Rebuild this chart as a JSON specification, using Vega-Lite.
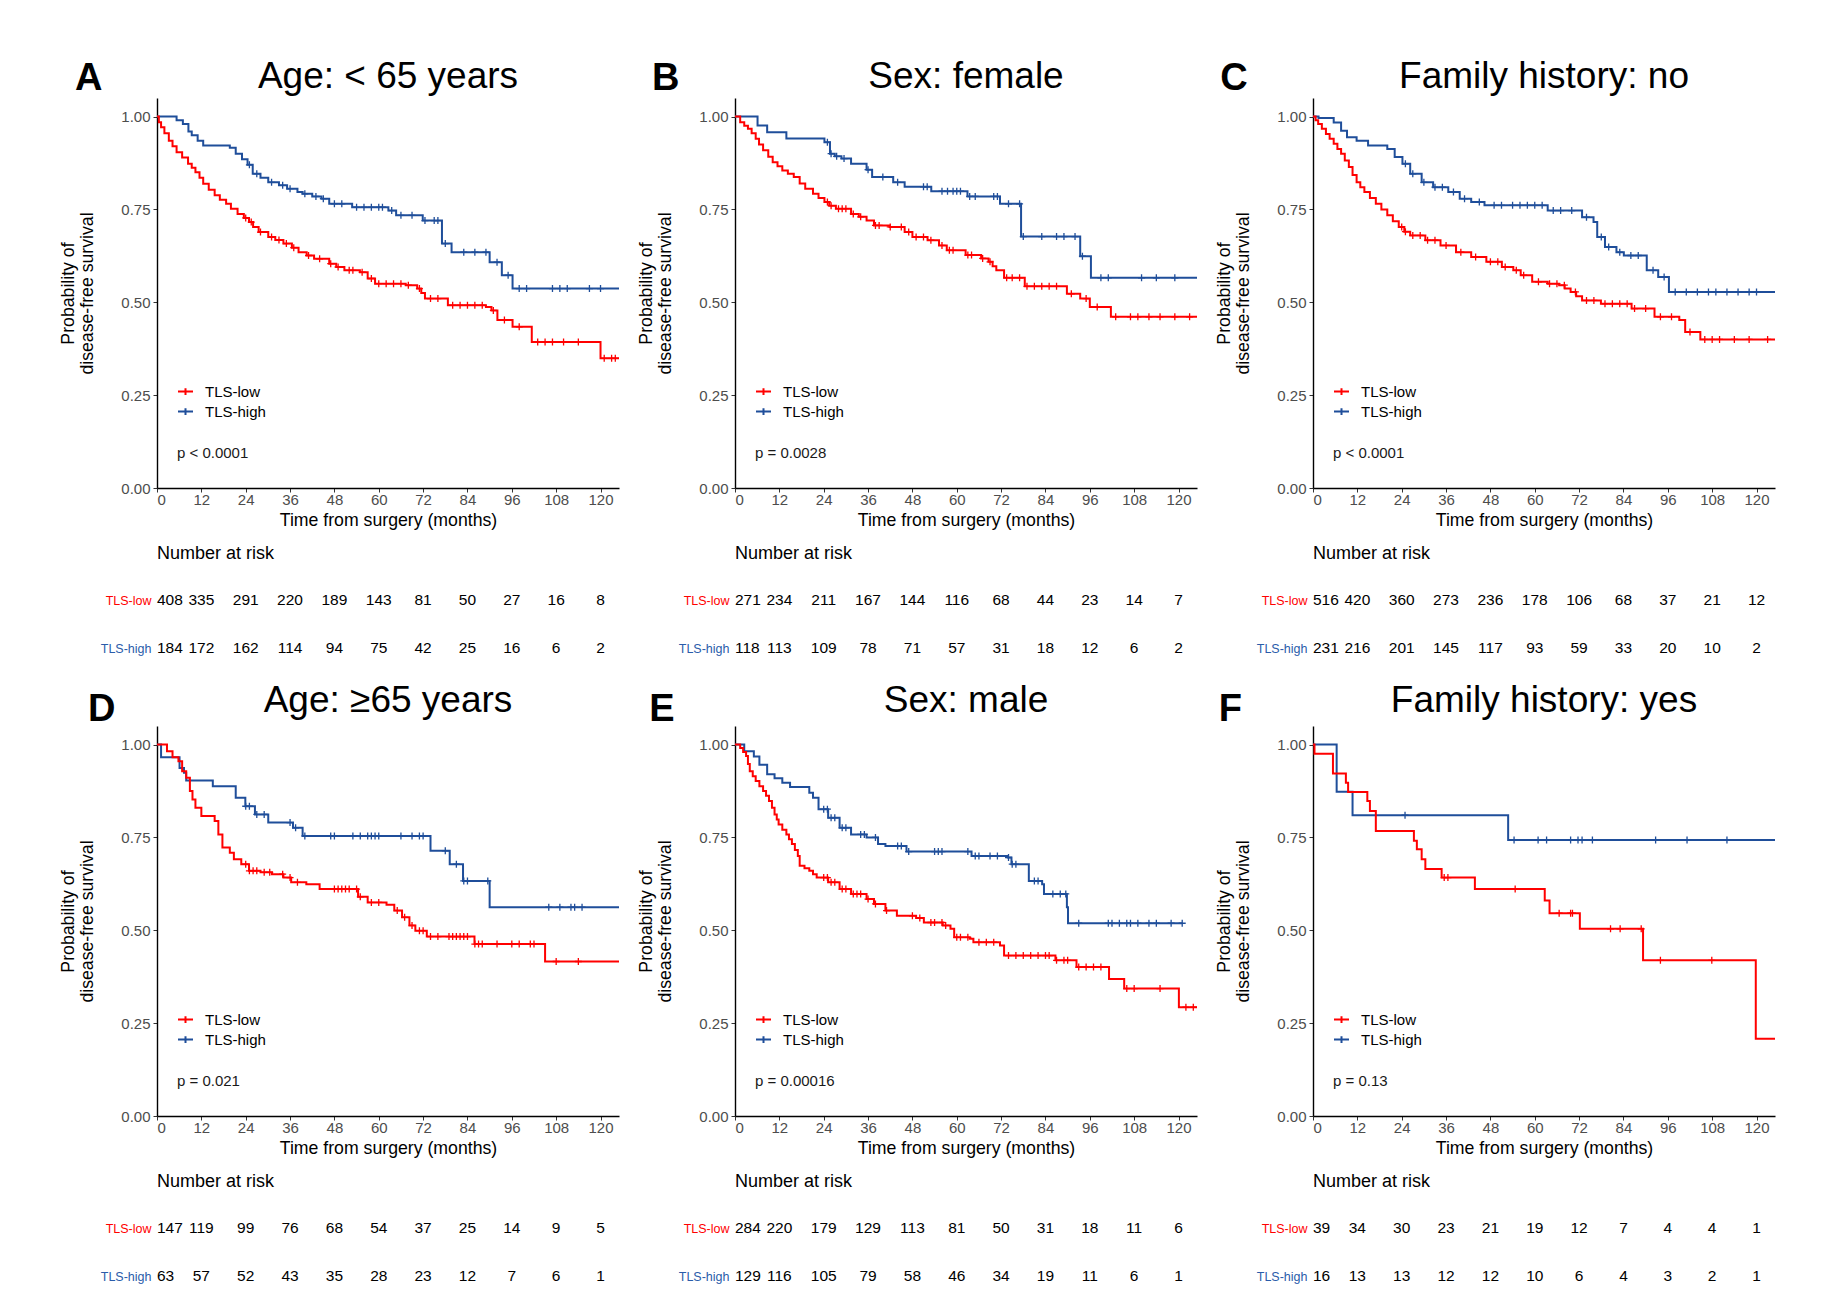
{
"$schema": "https://vega.github.io/schema/vega-lite/v6.json",
"background": "white",
"padding": {"left": 59, "top": 58, "right": 10, "bottom": 0},
"config": {
  "font": "Liberation Sans",
  "view": {"stroke": null},
  "axis": {"grid": false, "labelFont": "Liberation Sans", "titleFont": "Liberation Sans", "labelColor": "#4d4d4d", "labelFontSize": 15, "titleFontSize": 17.7, "titleFontWeight": "normal", "titleColor": "black", "domainColor": "black", "domainWidth": 1.4, "tickColor": "#333333", "tickSize": 4, "labelPadding": 3},
  "axisX": {"titlePadding": 4, "labelAngle": 0, "labelPadding": 0.5},
  "axisY": {"titlePadding": 24, "titleLineHeight": 19},
  "legend": {"labelFont": "Liberation Sans", "labelColor": "black"},
  "title": {"font": "Liberation Sans", "color": "black"}
},
"datasets": {
"notes": [
  {"panel": "A", "pval": "p < 0.0001"},
  {"panel": "B", "pval": "p = 0.0028"},
  {"panel": "C", "pval": "p < 0.0001"},
  {"panel": "D", "pval": "p = 0.021"},
  {"panel": "E", "pval": "p = 0.00016"},
  {"panel": "F", "pval": "p = 0.13"}
],
"risk": [
  {"panel":"A","group":"TLS-low","time":0,"n":408},{"panel":"A","group":"TLS-low","time":12,"n":335},{"panel":"A","group":"TLS-low","time":24,"n":291},{"panel":"A","group":"TLS-low","time":36,"n":220},{"panel":"A","group":"TLS-low","time":48,"n":189},{"panel":"A","group":"TLS-low","time":60,"n":143},{"panel":"A","group":"TLS-low","time":72,"n":81},{"panel":"A","group":"TLS-low","time":84,"n":50},{"panel":"A","group":"TLS-low","time":96,"n":27},{"panel":"A","group":"TLS-low","time":108,"n":16},{"panel":"A","group":"TLS-low","time":120,"n":8},
  {"panel":"A","group":"TLS-high","time":0,"n":184},{"panel":"A","group":"TLS-high","time":12,"n":172},{"panel":"A","group":"TLS-high","time":24,"n":162},{"panel":"A","group":"TLS-high","time":36,"n":114},{"panel":"A","group":"TLS-high","time":48,"n":94},{"panel":"A","group":"TLS-high","time":60,"n":75},{"panel":"A","group":"TLS-high","time":72,"n":42},{"panel":"A","group":"TLS-high","time":84,"n":25},{"panel":"A","group":"TLS-high","time":96,"n":16},{"panel":"A","group":"TLS-high","time":108,"n":6},{"panel":"A","group":"TLS-high","time":120,"n":2},
  {"panel":"B","group":"TLS-low","time":0,"n":271},{"panel":"B","group":"TLS-low","time":12,"n":234},{"panel":"B","group":"TLS-low","time":24,"n":211},{"panel":"B","group":"TLS-low","time":36,"n":167},{"panel":"B","group":"TLS-low","time":48,"n":144},{"panel":"B","group":"TLS-low","time":60,"n":116},{"panel":"B","group":"TLS-low","time":72,"n":68},{"panel":"B","group":"TLS-low","time":84,"n":44},{"panel":"B","group":"TLS-low","time":96,"n":23},{"panel":"B","group":"TLS-low","time":108,"n":14},{"panel":"B","group":"TLS-low","time":120,"n":7},
  {"panel":"B","group":"TLS-high","time":0,"n":118},{"panel":"B","group":"TLS-high","time":12,"n":113},{"panel":"B","group":"TLS-high","time":24,"n":109},{"panel":"B","group":"TLS-high","time":36,"n":78},{"panel":"B","group":"TLS-high","time":48,"n":71},{"panel":"B","group":"TLS-high","time":60,"n":57},{"panel":"B","group":"TLS-high","time":72,"n":31},{"panel":"B","group":"TLS-high","time":84,"n":18},{"panel":"B","group":"TLS-high","time":96,"n":12},{"panel":"B","group":"TLS-high","time":108,"n":6},{"panel":"B","group":"TLS-high","time":120,"n":2},
  {"panel":"C","group":"TLS-low","time":0,"n":516},{"panel":"C","group":"TLS-low","time":12,"n":420},{"panel":"C","group":"TLS-low","time":24,"n":360},{"panel":"C","group":"TLS-low","time":36,"n":273},{"panel":"C","group":"TLS-low","time":48,"n":236},{"panel":"C","group":"TLS-low","time":60,"n":178},{"panel":"C","group":"TLS-low","time":72,"n":106},{"panel":"C","group":"TLS-low","time":84,"n":68},{"panel":"C","group":"TLS-low","time":96,"n":37},{"panel":"C","group":"TLS-low","time":108,"n":21},{"panel":"C","group":"TLS-low","time":120,"n":12},
  {"panel":"C","group":"TLS-high","time":0,"n":231},{"panel":"C","group":"TLS-high","time":12,"n":216},{"panel":"C","group":"TLS-high","time":24,"n":201},{"panel":"C","group":"TLS-high","time":36,"n":145},{"panel":"C","group":"TLS-high","time":48,"n":117},{"panel":"C","group":"TLS-high","time":60,"n":93},{"panel":"C","group":"TLS-high","time":72,"n":59},{"panel":"C","group":"TLS-high","time":84,"n":33},{"panel":"C","group":"TLS-high","time":96,"n":20},{"panel":"C","group":"TLS-high","time":108,"n":10},{"panel":"C","group":"TLS-high","time":120,"n":2},
  {"panel":"D","group":"TLS-low","time":0,"n":147},{"panel":"D","group":"TLS-low","time":12,"n":119},{"panel":"D","group":"TLS-low","time":24,"n":99},{"panel":"D","group":"TLS-low","time":36,"n":76},{"panel":"D","group":"TLS-low","time":48,"n":68},{"panel":"D","group":"TLS-low","time":60,"n":54},{"panel":"D","group":"TLS-low","time":72,"n":37},{"panel":"D","group":"TLS-low","time":84,"n":25},{"panel":"D","group":"TLS-low","time":96,"n":14},{"panel":"D","group":"TLS-low","time":108,"n":9},{"panel":"D","group":"TLS-low","time":120,"n":5},
  {"panel":"D","group":"TLS-high","time":0,"n":63},{"panel":"D","group":"TLS-high","time":12,"n":57},{"panel":"D","group":"TLS-high","time":24,"n":52},{"panel":"D","group":"TLS-high","time":36,"n":43},{"panel":"D","group":"TLS-high","time":48,"n":35},{"panel":"D","group":"TLS-high","time":60,"n":28},{"panel":"D","group":"TLS-high","time":72,"n":23},{"panel":"D","group":"TLS-high","time":84,"n":12},{"panel":"D","group":"TLS-high","time":96,"n":7},{"panel":"D","group":"TLS-high","time":108,"n":6},{"panel":"D","group":"TLS-high","time":120,"n":1},
  {"panel":"E","group":"TLS-low","time":0,"n":284},{"panel":"E","group":"TLS-low","time":12,"n":220},{"panel":"E","group":"TLS-low","time":24,"n":179},{"panel":"E","group":"TLS-low","time":36,"n":129},{"panel":"E","group":"TLS-low","time":48,"n":113},{"panel":"E","group":"TLS-low","time":60,"n":81},{"panel":"E","group":"TLS-low","time":72,"n":50},{"panel":"E","group":"TLS-low","time":84,"n":31},{"panel":"E","group":"TLS-low","time":96,"n":18},{"panel":"E","group":"TLS-low","time":108,"n":11},{"panel":"E","group":"TLS-low","time":120,"n":6},
  {"panel":"E","group":"TLS-high","time":0,"n":129},{"panel":"E","group":"TLS-high","time":12,"n":116},{"panel":"E","group":"TLS-high","time":24,"n":105},{"panel":"E","group":"TLS-high","time":36,"n":79},{"panel":"E","group":"TLS-high","time":48,"n":58},{"panel":"E","group":"TLS-high","time":60,"n":46},{"panel":"E","group":"TLS-high","time":72,"n":34},{"panel":"E","group":"TLS-high","time":84,"n":19},{"panel":"E","group":"TLS-high","time":96,"n":11},{"panel":"E","group":"TLS-high","time":108,"n":6},{"panel":"E","group":"TLS-high","time":120,"n":1},
  {"panel":"F","group":"TLS-low","time":0,"n":39},{"panel":"F","group":"TLS-low","time":12,"n":34},{"panel":"F","group":"TLS-low","time":24,"n":30},{"panel":"F","group":"TLS-low","time":36,"n":23},{"panel":"F","group":"TLS-low","time":48,"n":21},{"panel":"F","group":"TLS-low","time":60,"n":19},{"panel":"F","group":"TLS-low","time":72,"n":12},{"panel":"F","group":"TLS-low","time":84,"n":7},{"panel":"F","group":"TLS-low","time":96,"n":4},{"panel":"F","group":"TLS-low","time":108,"n":4},{"panel":"F","group":"TLS-low","time":120,"n":1},
  {"panel":"F","group":"TLS-high","time":0,"n":16},{"panel":"F","group":"TLS-high","time":12,"n":13},{"panel":"F","group":"TLS-high","time":24,"n":13},{"panel":"F","group":"TLS-high","time":36,"n":12},{"panel":"F","group":"TLS-high","time":48,"n":12},{"panel":"F","group":"TLS-high","time":60,"n":10},{"panel":"F","group":"TLS-high","time":72,"n":6},{"panel":"F","group":"TLS-high","time":84,"n":4},{"panel":"F","group":"TLS-high","time":96,"n":3},{"panel":"F","group":"TLS-high","time":108,"n":2},{"panel":"F","group":"TLS-high","time":120,"n":1}
],
"steps": [
  {"panel":"A","group":"TLS-high","time":0,"surv":1},{"panel":"A","group":"TLS-high","time":5.3,"surv":0.99},{"panel":"A","group":"TLS-high","time":7,"surv":0.98},{"panel":"A","group":"TLS-high","time":8.5,"surv":0.96},{"panel":"A","group":"TLS-high","time":9.4,"surv":0.95},{"panel":"A","group":"TLS-high","time":11,"surv":0.935},{"panel":"A","group":"TLS-high","time":12.5,"surv":0.922},{"panel":"A","group":"TLS-high","time":19.7,"surv":0.916},{"panel":"A","group":"TLS-high","time":21.3,"surv":0.9},{"panel":"A","group":"TLS-high","time":23,"surv":0.885},{"panel":"A","group":"TLS-high","time":24.5,"surv":0.87},{"panel":"A","group":"TLS-high","time":25.9,"surv":0.846},{"panel":"A","group":"TLS-high","time":28,"surv":0.835},{"panel":"A","group":"TLS-high","time":30.1,"surv":0.823},{"panel":"A","group":"TLS-high","time":33,"surv":0.815},{"panel":"A","group":"TLS-high","time":35.2,"surv":0.806},{"panel":"A","group":"TLS-high","time":38,"surv":0.797},{"panel":"A","group":"TLS-high","time":39.4,"surv":0.792},{"panel":"A","group":"TLS-high","time":42,"surv":0.785},{"panel":"A","group":"TLS-high","time":44.5,"surv":0.779},{"panel":"A","group":"TLS-high","time":46.6,"surv":0.765},{"panel":"A","group":"TLS-high","time":52.8,"surv":0.756},{"panel":"A","group":"TLS-high","time":62.6,"surv":0.747},{"panel":"A","group":"TLS-high","time":64.7,"surv":0.734},{"panel":"A","group":"TLS-high","time":71.9,"surv":0.72},{"panel":"A","group":"TLS-high","time":77.1,"surv":0.658},{"panel":"A","group":"TLS-high","time":79.7,"surv":0.635},{"panel":"A","group":"TLS-high","time":90,"surv":0.608},{"panel":"A","group":"TLS-high","time":93.3,"surv":0.573},{"panel":"A","group":"TLS-high","time":96.2,"surv":0.537},{"panel":"A","group":"TLS-high","time":125,"surv":0.537},
  {"panel":"A","group":"TLS-low","time":0,"surv":1},{"panel":"A","group":"TLS-low","time":0.5,"surv":0.985},{"panel":"A","group":"TLS-low","time":1.1,"surv":0.971},{"panel":"A","group":"TLS-low","time":2,"surv":0.955},{"panel":"A","group":"TLS-low","time":3.2,"surv":0.935},{"panel":"A","group":"TLS-low","time":4.2,"surv":0.92},{"panel":"A","group":"TLS-low","time":5.3,"surv":0.904},{"panel":"A","group":"TLS-low","time":6.8,"surv":0.89},{"panel":"A","group":"TLS-low","time":8.4,"surv":0.873},{"panel":"A","group":"TLS-low","time":9.4,"surv":0.862},{"panel":"A","group":"TLS-low","time":10.4,"surv":0.85},{"panel":"A","group":"TLS-low","time":11.5,"surv":0.835},{"panel":"A","group":"TLS-low","time":12.5,"surv":0.819},{"panel":"A","group":"TLS-low","time":14,"surv":0.803},{"panel":"A","group":"TLS-low","time":15.6,"surv":0.788},{"panel":"A","group":"TLS-low","time":17,"surv":0.776},{"panel":"A","group":"TLS-low","time":18.7,"surv":0.765},{"panel":"A","group":"TLS-low","time":20,"surv":0.752},{"panel":"A","group":"TLS-low","time":21.8,"surv":0.738},{"panel":"A","group":"TLS-low","time":23.5,"surv":0.727},{"panel":"A","group":"TLS-low","time":24.9,"surv":0.716},{"panel":"A","group":"TLS-low","time":26,"surv":0.703},{"panel":"A","group":"TLS-low","time":27.5,"surv":0.689},{"panel":"A","group":"TLS-low","time":30.1,"surv":0.676},{"panel":"A","group":"TLS-low","time":32,"surv":0.668},{"panel":"A","group":"TLS-low","time":34.2,"surv":0.658},{"panel":"A","group":"TLS-low","time":36.5,"surv":0.647},{"panel":"A","group":"TLS-low","time":38.3,"surv":0.635},{"panel":"A","group":"TLS-low","time":40.5,"surv":0.626},{"panel":"A","group":"TLS-low","time":42.5,"surv":0.617},{"panel":"A","group":"TLS-low","time":46.6,"surv":0.604},{"panel":"A","group":"TLS-low","time":48.5,"surv":0.595},{"panel":"A","group":"TLS-low","time":50.7,"surv":0.586},{"panel":"A","group":"TLS-low","time":54.9,"surv":0.581},{"panel":"A","group":"TLS-low","time":57,"surv":0.564},{"panel":"A","group":"TLS-low","time":59,"surv":0.55},{"panel":"A","group":"TLS-low","time":67.3,"surv":0.546},{"panel":"A","group":"TLS-low","time":70.4,"surv":0.537},{"panel":"A","group":"TLS-low","time":71.5,"surv":0.525},{"panel":"A","group":"TLS-low","time":72.5,"surv":0.51},{"panel":"A","group":"TLS-low","time":78.7,"surv":0.492},{"panel":"A","group":"TLS-low","time":89,"surv":0.487},{"panel":"A","group":"TLS-low","time":90.5,"surv":0.478},{"panel":"A","group":"TLS-low","time":92.1,"surv":0.452},{"panel":"A","group":"TLS-low","time":96.2,"surv":0.434},{"panel":"A","group":"TLS-low","time":101.4,"surv":0.393},{"panel":"A","group":"TLS-low","time":120,"surv":0.349},{"panel":"A","group":"TLS-low","time":125,"surv":0.349},
  {"panel":"B","group":"TLS-high","time":0,"surv":1},{"panel":"B","group":"TLS-high","time":6.1,"surv":0.976},{"panel":"B","group":"TLS-high","time":8.7,"surv":0.958},{"panel":"B","group":"TLS-high","time":13.9,"surv":0.941},{"panel":"B","group":"TLS-high","time":24.2,"surv":0.931},{"panel":"B","group":"TLS-high","time":25.7,"surv":0.9},{"panel":"B","group":"TLS-high","time":27,"surv":0.893},{"panel":"B","group":"TLS-high","time":28.8,"surv":0.887},{"panel":"B","group":"TLS-high","time":31.4,"surv":0.873},{"panel":"B","group":"TLS-high","time":35.6,"surv":0.857},{"panel":"B","group":"TLS-high","time":37.1,"surv":0.837},{"panel":"B","group":"TLS-high","time":42.8,"surv":0.823},{"panel":"B","group":"TLS-high","time":45.9,"surv":0.811},{"panel":"B","group":"TLS-high","time":53.1,"surv":0.799},{"panel":"B","group":"TLS-high","time":62.9,"surv":0.785},{"panel":"B","group":"TLS-high","time":71.7,"surv":0.765},{"panel":"B","group":"TLS-high","time":77.4,"surv":0.677},{"panel":"B","group":"TLS-high","time":93.4,"surv":0.624},{"panel":"B","group":"TLS-high","time":96.3,"surv":0.566},{"panel":"B","group":"TLS-high","time":125,"surv":0.566},
  {"panel":"B","group":"TLS-low","time":0,"surv":1},{"panel":"B","group":"TLS-low","time":1.4,"surv":0.985},{"panel":"B","group":"TLS-low","time":2.5,"surv":0.975},{"panel":"B","group":"TLS-low","time":3.5,"surv":0.967},{"panel":"B","group":"TLS-low","time":4.5,"surv":0.955},{"panel":"B","group":"TLS-low","time":5.6,"surv":0.94},{"panel":"B","group":"TLS-low","time":6.5,"surv":0.925},{"panel":"B","group":"TLS-low","time":7.6,"surv":0.909},{"panel":"B","group":"TLS-low","time":9,"surv":0.892},{"panel":"B","group":"TLS-low","time":10.2,"surv":0.877},{"panel":"B","group":"TLS-low","time":11.5,"surv":0.866},{"panel":"B","group":"TLS-low","time":12.8,"surv":0.855},{"panel":"B","group":"TLS-low","time":14.3,"surv":0.846},{"panel":"B","group":"TLS-low","time":15.9,"surv":0.837},{"panel":"B","group":"TLS-low","time":17.5,"surv":0.82},{"panel":"B","group":"TLS-low","time":19,"surv":0.806},{"panel":"B","group":"TLS-low","time":21.1,"surv":0.792},{"panel":"B","group":"TLS-low","time":22.6,"surv":0.781},{"panel":"B","group":"TLS-low","time":24.2,"surv":0.77},{"panel":"B","group":"TLS-low","time":25.5,"surv":0.76},{"panel":"B","group":"TLS-low","time":27.3,"surv":0.752},{"panel":"B","group":"TLS-low","time":31.4,"surv":0.738},{"panel":"B","group":"TLS-low","time":33.5,"surv":0.73},{"panel":"B","group":"TLS-low","time":35.6,"surv":0.72},{"panel":"B","group":"TLS-low","time":37.6,"surv":0.707},{"panel":"B","group":"TLS-low","time":41.8,"surv":0.703},{"panel":"B","group":"TLS-low","time":45.9,"surv":0.689},{"panel":"B","group":"TLS-low","time":48,"surv":0.676},{"panel":"B","group":"TLS-low","time":52.1,"surv":0.667},{"panel":"B","group":"TLS-low","time":55.2,"surv":0.653},{"panel":"B","group":"TLS-low","time":57.3,"surv":0.64},{"panel":"B","group":"TLS-low","time":62.4,"surv":0.627},{"panel":"B","group":"TLS-low","time":66.6,"surv":0.618},{"panel":"B","group":"TLS-low","time":68.6,"surv":0.609},{"panel":"B","group":"TLS-low","time":69.7,"surv":0.597},{"panel":"B","group":"TLS-low","time":70.7,"surv":0.586},{"panel":"B","group":"TLS-low","time":72.8,"surv":0.566},{"panel":"B","group":"TLS-low","time":78.4,"surv":0.543},{"panel":"B","group":"TLS-low","time":89.8,"surv":0.523},{"panel":"B","group":"TLS-low","time":93.4,"surv":0.51},{"panel":"B","group":"TLS-low","time":96,"surv":0.487},{"panel":"B","group":"TLS-low","time":101.7,"surv":0.461},{"panel":"B","group":"TLS-low","time":125,"surv":0.461},
  {"panel":"C","group":"TLS-high","time":0,"surv":1},{"panel":"C","group":"TLS-high","time":1.5,"surv":0.996},{"panel":"C","group":"TLS-high","time":5.6,"surv":0.984},{"panel":"C","group":"TLS-high","time":7.6,"surv":0.962},{"panel":"C","group":"TLS-high","time":9.2,"surv":0.944},{"panel":"C","group":"TLS-high","time":11.8,"surv":0.935},{"panel":"C","group":"TLS-high","time":14.9,"surv":0.922},{"panel":"C","group":"TLS-high","time":20.1,"surv":0.913},{"panel":"C","group":"TLS-high","time":22.1,"surv":0.891},{"panel":"C","group":"TLS-high","time":24.2,"surv":0.873},{"panel":"C","group":"TLS-high","time":26.3,"surv":0.846},{"panel":"C","group":"TLS-high","time":29.4,"surv":0.823},{"panel":"C","group":"TLS-high","time":32.5,"surv":0.81},{"panel":"C","group":"TLS-high","time":36.6,"surv":0.797},{"panel":"C","group":"TLS-high","time":39.7,"surv":0.779},{"panel":"C","group":"TLS-high","time":42.8,"surv":0.77},{"panel":"C","group":"TLS-high","time":46.4,"surv":0.761},{"panel":"C","group":"TLS-high","time":63.5,"surv":0.747},{"panel":"C","group":"TLS-high","time":72.8,"surv":0.729},{"panel":"C","group":"TLS-high","time":75.9,"surv":0.716},{"panel":"C","group":"TLS-high","time":76.9,"surv":0.676},{"panel":"C","group":"TLS-high","time":79,"surv":0.649},{"panel":"C","group":"TLS-high","time":82.1,"surv":0.635},{"panel":"C","group":"TLS-high","time":84.1,"surv":0.626},{"panel":"C","group":"TLS-high","time":90.3,"surv":0.586},{"panel":"C","group":"TLS-high","time":93.4,"surv":0.568},{"panel":"C","group":"TLS-high","time":96.3,"surv":0.528},{"panel":"C","group":"TLS-high","time":125,"surv":0.528},
  {"panel":"C","group":"TLS-low","time":0,"surv":1},{"panel":"C","group":"TLS-low","time":0.7,"surv":0.99},{"panel":"C","group":"TLS-low","time":1.4,"surv":0.98},{"panel":"C","group":"TLS-low","time":2.4,"surv":0.967},{"panel":"C","group":"TLS-low","time":3.5,"surv":0.953},{"panel":"C","group":"TLS-low","time":4.5,"surv":0.94},{"panel":"C","group":"TLS-low","time":5.6,"surv":0.927},{"panel":"C","group":"TLS-low","time":6.6,"surv":0.913},{"panel":"C","group":"TLS-low","time":7.6,"surv":0.9},{"panel":"C","group":"TLS-low","time":8.6,"surv":0.882},{"panel":"C","group":"TLS-low","time":9.7,"surv":0.864},{"panel":"C","group":"TLS-low","time":10.7,"surv":0.843},{"panel":"C","group":"TLS-low","time":11.8,"surv":0.823},{"panel":"C","group":"TLS-low","time":12.8,"surv":0.81},{"panel":"C","group":"TLS-low","time":13.9,"surv":0.797},{"panel":"C","group":"TLS-low","time":15.4,"surv":0.781},{"panel":"C","group":"TLS-low","time":17,"surv":0.765},{"panel":"C","group":"TLS-low","time":18.5,"surv":0.75},{"panel":"C","group":"TLS-low","time":20.1,"surv":0.734},{"panel":"C","group":"TLS-low","time":21.6,"surv":0.718},{"panel":"C","group":"TLS-low","time":23.2,"surv":0.703},{"panel":"C","group":"TLS-low","time":24.7,"surv":0.69},{"panel":"C","group":"TLS-low","time":26.3,"surv":0.68},{"panel":"C","group":"TLS-low","time":30.4,"surv":0.667},{"panel":"C","group":"TLS-low","time":34.5,"surv":0.653},{"panel":"C","group":"TLS-low","time":38.7,"surv":0.635},{"panel":"C","group":"TLS-low","time":42.8,"surv":0.622},{"panel":"C","group":"TLS-low","time":46.9,"surv":0.609},{"panel":"C","group":"TLS-low","time":51.1,"surv":0.595},{"panel":"C","group":"TLS-low","time":54.2,"surv":0.586},{"panel":"C","group":"TLS-low","time":56.2,"surv":0.573},{"panel":"C","group":"TLS-low","time":59.3,"surv":0.555},{"panel":"C","group":"TLS-low","time":63.5,"surv":0.55},{"panel":"C","group":"TLS-low","time":66.6,"surv":0.546},{"panel":"C","group":"TLS-low","time":68.1,"surv":0.537},{"panel":"C","group":"TLS-low","time":69.7,"surv":0.528},{"panel":"C","group":"TLS-low","time":71.2,"surv":0.516},{"panel":"C","group":"TLS-low","time":72.8,"surv":0.505},{"panel":"C","group":"TLS-low","time":77.9,"surv":0.496},{"panel":"C","group":"TLS-low","time":86.2,"surv":0.483},{"panel":"C","group":"TLS-low","time":92.4,"surv":0.461},{"panel":"C","group":"TLS-low","time":99.1,"surv":0.452},{"panel":"C","group":"TLS-low","time":100.7,"surv":0.42},{"panel":"C","group":"TLS-low","time":104.8,"surv":0.4},{"panel":"C","group":"TLS-low","time":125,"surv":0.4},
  {"panel":"D","group":"TLS-high","time":0,"surv":1},{"panel":"D","group":"TLS-high","time":1.1,"surv":0.966},{"panel":"D","group":"TLS-high","time":6.1,"surv":0.937},{"panel":"D","group":"TLS-high","time":7.3,"surv":0.924},{"panel":"D","group":"TLS-high","time":7.9,"surv":0.903},{"panel":"D","group":"TLS-high","time":15.1,"surv":0.888},{"panel":"D","group":"TLS-high","time":21.3,"surv":0.857},{"panel":"D","group":"TLS-high","time":23.9,"surv":0.834},{"panel":"D","group":"TLS-high","time":26.5,"surv":0.812},{"panel":"D","group":"TLS-high","time":30.1,"surv":0.79},{"panel":"D","group":"TLS-high","time":36.8,"surv":0.776},{"panel":"D","group":"TLS-high","time":39.4,"surv":0.754},{"panel":"D","group":"TLS-high","time":74,"surv":0.714},{"panel":"D","group":"TLS-high","time":79.2,"surv":0.678},{"panel":"D","group":"TLS-high","time":82.8,"surv":0.633},{"panel":"D","group":"TLS-high","time":90,"surv":0.562},{"panel":"D","group":"TLS-high","time":125,"surv":0.562},
  {"panel":"D","group":"TLS-low","time":0,"surv":1},{"panel":"D","group":"TLS-low","time":2.7,"surv":0.982},{"panel":"D","group":"TLS-low","time":4.2,"surv":0.966},{"panel":"D","group":"TLS-low","time":5.8,"surv":0.955},{"panel":"D","group":"TLS-low","time":6.8,"surv":0.928},{"panel":"D","group":"TLS-low","time":7.9,"surv":0.911},{"panel":"D","group":"TLS-low","time":8.9,"surv":0.875},{"panel":"D","group":"TLS-low","time":9.6,"surv":0.852},{"panel":"D","group":"TLS-low","time":10.4,"surv":0.83},{"panel":"D","group":"TLS-low","time":12,"surv":0.808},{"panel":"D","group":"TLS-low","time":15.6,"surv":0.794},{"panel":"D","group":"TLS-low","time":16.6,"surv":0.758},{"panel":"D","group":"TLS-low","time":17.7,"surv":0.723},{"panel":"D","group":"TLS-low","time":19.7,"surv":0.709},{"panel":"D","group":"TLS-low","time":20.8,"surv":0.691},{"panel":"D","group":"TLS-low","time":22.8,"surv":0.678},{"panel":"D","group":"TLS-low","time":24.9,"surv":0.66},{"panel":"D","group":"TLS-low","time":28,"surv":0.656},{"panel":"D","group":"TLS-low","time":31.1,"surv":0.651},{"panel":"D","group":"TLS-low","time":34.2,"surv":0.642},{"panel":"D","group":"TLS-low","time":36.3,"surv":0.629},{"panel":"D","group":"TLS-low","time":40.4,"surv":0.624},{"panel":"D","group":"TLS-low","time":44,"surv":0.611},{"panel":"D","group":"TLS-low","time":54.4,"surv":0.59},{"panel":"D","group":"TLS-low","time":57,"surv":0.575},{"panel":"D","group":"TLS-low","time":62.1,"surv":0.569},{"panel":"D","group":"TLS-low","time":64.2,"surv":0.553},{"panel":"D","group":"TLS-low","time":66.3,"surv":0.535},{"panel":"D","group":"TLS-low","time":68.3,"surv":0.513},{"panel":"D","group":"TLS-low","time":69.9,"surv":0.499},{"panel":"D","group":"TLS-low","time":73,"surv":0.483},{"panel":"D","group":"TLS-low","time":85.9,"surv":0.463},{"panel":"D","group":"TLS-low","time":105,"surv":0.416},{"panel":"D","group":"TLS-low","time":125,"surv":0.416},
  {"panel":"E","group":"TLS-high","time":0,"surv":1},{"panel":"E","group":"TLS-high","time":2.5,"surv":0.982},{"panel":"E","group":"TLS-high","time":5.1,"surv":0.968},{"panel":"E","group":"TLS-high","time":6.6,"surv":0.946},{"panel":"E","group":"TLS-high","time":8.7,"surv":0.92},{"panel":"E","group":"TLS-high","time":10.7,"surv":0.909},{"panel":"E","group":"TLS-high","time":12.8,"surv":0.897},{"panel":"E","group":"TLS-high","time":14.9,"surv":0.886},{"panel":"E","group":"TLS-high","time":20.1,"surv":0.87},{"panel":"E","group":"TLS-high","time":21.1,"surv":0.857},{"panel":"E","group":"TLS-high","time":22.6,"surv":0.826},{"panel":"E","group":"TLS-high","time":25.2,"surv":0.803},{"panel":"E","group":"TLS-high","time":28.3,"surv":0.776},{"panel":"E","group":"TLS-high","time":31.4,"surv":0.758},{"panel":"E","group":"TLS-high","time":35.6,"surv":0.75},{"panel":"E","group":"TLS-high","time":38.7,"surv":0.732},{"panel":"E","group":"TLS-high","time":40.7,"surv":0.727},{"panel":"E","group":"TLS-high","time":46.4,"surv":0.712},{"panel":"E","group":"TLS-high","time":64,"surv":0.7},{"panel":"E","group":"TLS-high","time":73.8,"surv":0.696},{"panel":"E","group":"TLS-high","time":74.8,"surv":0.678},{"panel":"E","group":"TLS-high","time":79.5,"surv":0.633},{"panel":"E","group":"TLS-high","time":83.1,"surv":0.624},{"panel":"E","group":"TLS-high","time":83.6,"surv":0.598},{"panel":"E","group":"TLS-high","time":89.8,"surv":0.562},{"panel":"E","group":"TLS-high","time":90.1,"surv":0.519},{"panel":"E","group":"TLS-high","time":121,"surv":0.519},
  {"panel":"E","group":"TLS-low","time":0,"surv":1},{"panel":"E","group":"TLS-low","time":1.4,"surv":0.991},{"panel":"E","group":"TLS-low","time":2.2,"surv":0.98},{"panel":"E","group":"TLS-low","time":3,"surv":0.969},{"panel":"E","group":"TLS-low","time":3.5,"surv":0.948},{"panel":"E","group":"TLS-low","time":4,"surv":0.928},{"panel":"E","group":"TLS-low","time":4.8,"surv":0.915},{"panel":"E","group":"TLS-low","time":5.6,"surv":0.902},{"panel":"E","group":"TLS-low","time":6.6,"surv":0.888},{"panel":"E","group":"TLS-low","time":7.6,"surv":0.875},{"panel":"E","group":"TLS-low","time":8.4,"surv":0.862},{"panel":"E","group":"TLS-low","time":9.2,"surv":0.848},{"panel":"E","group":"TLS-low","time":10,"surv":0.83},{"panel":"E","group":"TLS-low","time":10.7,"surv":0.812},{"panel":"E","group":"TLS-low","time":11.3,"surv":0.798},{"panel":"E","group":"TLS-low","time":11.8,"surv":0.785},{"panel":"E","group":"TLS-low","time":12.8,"surv":0.771},{"panel":"E","group":"TLS-low","time":13.9,"surv":0.758},{"panel":"E","group":"TLS-low","time":14.6,"surv":0.745},{"panel":"E","group":"TLS-low","time":15.4,"surv":0.732},{"panel":"E","group":"TLS-low","time":16.2,"surv":0.716},{"panel":"E","group":"TLS-low","time":17,"surv":0.7},{"panel":"E","group":"TLS-low","time":17.5,"surv":0.674},{"panel":"E","group":"TLS-low","time":18.8,"surv":0.667},{"panel":"E","group":"TLS-low","time":20.1,"surv":0.66},{"panel":"E","group":"TLS-low","time":21.1,"surv":0.651},{"panel":"E","group":"TLS-low","time":22.1,"surv":0.642},{"panel":"E","group":"TLS-low","time":25.2,"surv":0.629},{"panel":"E","group":"TLS-low","time":28.3,"surv":0.611},{"panel":"E","group":"TLS-low","time":31.4,"surv":0.598},{"panel":"E","group":"TLS-low","time":35.6,"surv":0.584},{"panel":"E","group":"TLS-low","time":37.6,"surv":0.571},{"panel":"E","group":"TLS-low","time":40.7,"surv":0.553},{"panel":"E","group":"TLS-low","time":43.8,"surv":0.539},{"panel":"E","group":"TLS-low","time":49,"surv":0.533},{"panel":"E","group":"TLS-low","time":51.1,"surv":0.521},{"panel":"E","group":"TLS-low","time":56.2,"surv":0.513},{"panel":"E","group":"TLS-low","time":58.3,"surv":0.504},{"panel":"E","group":"TLS-low","time":59.3,"surv":0.481},{"panel":"E","group":"TLS-low","time":63.5,"surv":0.477},{"panel":"E","group":"TLS-low","time":64.5,"surv":0.468},{"panel":"E","group":"TLS-low","time":71.7,"surv":0.459},{"panel":"E","group":"TLS-low","time":72.8,"surv":0.432},{"panel":"E","group":"TLS-low","time":86.7,"surv":0.419},{"panel":"E","group":"TLS-low","time":92.4,"surv":0.401},{"panel":"E","group":"TLS-low","time":101.2,"surv":0.369},{"panel":"E","group":"TLS-low","time":105.3,"surv":0.343},{"panel":"E","group":"TLS-low","time":120.1,"surv":0.293},{"panel":"E","group":"TLS-low","time":125,"surv":0.293},
  {"panel":"F","group":"TLS-high","time":0,"surv":1},{"panel":"F","group":"TLS-high","time":6.4,"surv":0.873},{"panel":"F","group":"TLS-high","time":10.7,"surv":0.81},{"panel":"F","group":"TLS-high","time":52.8,"surv":0.743},{"panel":"F","group":"TLS-high","time":125,"surv":0.743},
  {"panel":"F","group":"TLS-low","time":0,"surv":1},{"panel":"F","group":"TLS-low","time":0.4,"surv":0.975},{"panel":"F","group":"TLS-low","time":5.4,"surv":0.922},{"panel":"F","group":"TLS-low","time":8.9,"surv":0.897},{"panel":"F","group":"TLS-low","time":9.5,"surv":0.872},{"panel":"F","group":"TLS-low","time":14.7,"surv":0.848},{"panel":"F","group":"TLS-low","time":15.4,"surv":0.821},{"panel":"F","group":"TLS-low","time":17,"surv":0.767},{"panel":"F","group":"TLS-low","time":27.3,"surv":0.741},{"panel":"F","group":"TLS-low","time":28.1,"surv":0.718},{"panel":"F","group":"TLS-low","time":29.4,"surv":0.691},{"panel":"F","group":"TLS-low","time":30.4,"surv":0.665},{"panel":"F","group":"TLS-low","time":34.8,"surv":0.642},{"panel":"F","group":"TLS-low","time":43.8,"surv":0.611},{"panel":"F","group":"TLS-low","time":62.7,"surv":0.58},{"panel":"F","group":"TLS-low","time":64,"surv":0.546},{"panel":"F","group":"TLS-low","time":72.2,"surv":0.504},{"panel":"F","group":"TLS-low","time":89.3,"surv":0.419},{"panel":"F","group":"TLS-low","time":119.8,"surv":0.208},{"panel":"F","group":"TLS-low","time":125,"surv":0.208}
],
"censor": [
  {"panel":"A","group":"TLS-high","time":25,"surv":0.87},{"panel":"A","group":"TLS-high","time":27,"surv":0.846},{"panel":"A","group":"TLS-high","time":31,"surv":0.823},{"panel":"A","group":"TLS-high","time":34,"surv":0.815},{"panel":"A","group":"TLS-high","time":36,"surv":0.806},{"panel":"A","group":"TLS-high","time":40,"surv":0.792},{"panel":"A","group":"TLS-high","time":43,"surv":0.785},{"panel":"A","group":"TLS-high","time":45,"surv":0.779},{"panel":"A","group":"TLS-high","time":48,"surv":0.765},{"panel":"A","group":"TLS-high","time":50,"surv":0.765},{"panel":"A","group":"TLS-high","time":54,"surv":0.756},{"panel":"A","group":"TLS-high","time":56,"surv":0.756},{"panel":"A","group":"TLS-high","time":58,"surv":0.756},{"panel":"A","group":"TLS-high","time":60,"surv":0.756},{"panel":"A","group":"TLS-high","time":61,"surv":0.756},{"panel":"A","group":"TLS-high","time":63.5,"surv":0.747},{"panel":"A","group":"TLS-high","time":66,"surv":0.734},{"panel":"A","group":"TLS-high","time":69,"surv":0.734},{"panel":"A","group":"TLS-high","time":72.5,"surv":0.72},{"panel":"A","group":"TLS-high","time":75,"surv":0.72},{"panel":"A","group":"TLS-high","time":76,"surv":0.72},{"panel":"A","group":"TLS-high","time":78,"surv":0.658},{"panel":"A","group":"TLS-high","time":83,"surv":0.635},{"panel":"A","group":"TLS-high","time":86,"surv":0.635},{"panel":"A","group":"TLS-high","time":89,"surv":0.635},{"panel":"A","group":"TLS-high","time":92,"surv":0.608},{"panel":"A","group":"TLS-high","time":95,"surv":0.573},{"panel":"A","group":"TLS-high","time":98,"surv":0.537},{"panel":"A","group":"TLS-high","time":100,"surv":0.537},{"panel":"A","group":"TLS-high","time":107,"surv":0.537},{"panel":"A","group":"TLS-high","time":109,"surv":0.537},{"panel":"A","group":"TLS-high","time":111,"surv":0.537},{"panel":"A","group":"TLS-high","time":117,"surv":0.537},{"panel":"A","group":"TLS-high","time":120,"surv":0.537},
  {"panel":"A","group":"TLS-low","time":24,"surv":0.727},{"panel":"A","group":"TLS-low","time":25.5,"surv":0.716},{"panel":"A","group":"TLS-low","time":28,"surv":0.689},{"panel":"A","group":"TLS-low","time":31,"surv":0.676},{"panel":"A","group":"TLS-low","time":33,"surv":0.668},{"panel":"A","group":"TLS-low","time":35,"surv":0.658},{"panel":"A","group":"TLS-low","time":37,"surv":0.647},{"panel":"A","group":"TLS-low","time":41,"surv":0.626},{"panel":"A","group":"TLS-low","time":44,"surv":0.617},{"panel":"A","group":"TLS-low","time":47,"surv":0.604},{"panel":"A","group":"TLS-low","time":49,"surv":0.595},{"panel":"A","group":"TLS-low","time":52,"surv":0.586},{"panel":"A","group":"TLS-low","time":53,"surv":0.586},{"panel":"A","group":"TLS-low","time":55.5,"surv":0.581},{"panel":"A","group":"TLS-low","time":58,"surv":0.564},{"panel":"A","group":"TLS-low","time":60,"surv":0.55},{"panel":"A","group":"TLS-low","time":62,"surv":0.55},{"panel":"A","group":"TLS-low","time":64,"surv":0.55},{"panel":"A","group":"TLS-low","time":66,"surv":0.55},{"panel":"A","group":"TLS-low","time":68,"surv":0.546},{"panel":"A","group":"TLS-low","time":71,"surv":0.537},{"panel":"A","group":"TLS-low","time":74,"surv":0.51},{"panel":"A","group":"TLS-low","time":76,"surv":0.51},{"panel":"A","group":"TLS-low","time":80,"surv":0.492},{"panel":"A","group":"TLS-low","time":82,"surv":0.492},{"panel":"A","group":"TLS-low","time":84,"surv":0.492},{"panel":"A","group":"TLS-low","time":86,"surv":0.492},{"panel":"A","group":"TLS-low","time":88,"surv":0.492},{"panel":"A","group":"TLS-low","time":91,"surv":0.478},{"panel":"A","group":"TLS-low","time":94,"surv":0.452},{"panel":"A","group":"TLS-low","time":98,"surv":0.434},{"panel":"A","group":"TLS-low","time":103,"surv":0.393},{"panel":"A","group":"TLS-low","time":105,"surv":0.393},{"panel":"A","group":"TLS-low","time":107,"surv":0.393},{"panel":"A","group":"TLS-low","time":110,"surv":0.393},{"panel":"A","group":"TLS-low","time":114,"surv":0.393},{"panel":"A","group":"TLS-low","time":121,"surv":0.349},{"panel":"A","group":"TLS-low","time":123,"surv":0.349},{"panel":"A","group":"TLS-low","time":124,"surv":0.349},
  {"panel":"B","group":"TLS-high","time":25,"surv":0.931},{"panel":"B","group":"TLS-high","time":26,"surv":0.9},{"panel":"B","group":"TLS-high","time":27.5,"surv":0.893},{"panel":"B","group":"TLS-high","time":29.5,"surv":0.887},{"panel":"B","group":"TLS-high","time":36,"surv":0.857},{"panel":"B","group":"TLS-high","time":40,"surv":0.837},{"panel":"B","group":"TLS-high","time":44,"surv":0.823},{"panel":"B","group":"TLS-high","time":51,"surv":0.811},{"panel":"B","group":"TLS-high","time":52,"surv":0.811},{"panel":"B","group":"TLS-high","time":56,"surv":0.799},{"panel":"B","group":"TLS-high","time":57.5,"surv":0.799},{"panel":"B","group":"TLS-high","time":59,"surv":0.799},{"panel":"B","group":"TLS-high","time":60,"surv":0.799},{"panel":"B","group":"TLS-high","time":61,"surv":0.799},{"panel":"B","group":"TLS-high","time":63.5,"surv":0.785},{"panel":"B","group":"TLS-high","time":65,"surv":0.785},{"panel":"B","group":"TLS-high","time":70,"surv":0.785},{"panel":"B","group":"TLS-high","time":71,"surv":0.785},{"panel":"B","group":"TLS-high","time":74,"surv":0.765},{"panel":"B","group":"TLS-high","time":77,"surv":0.765},{"panel":"B","group":"TLS-high","time":78,"surv":0.677},{"panel":"B","group":"TLS-high","time":83,"surv":0.677},{"panel":"B","group":"TLS-high","time":87,"surv":0.677},{"panel":"B","group":"TLS-high","time":89,"surv":0.677},{"panel":"B","group":"TLS-high","time":92,"surv":0.677},{"panel":"B","group":"TLS-high","time":94,"surv":0.624},{"panel":"B","group":"TLS-high","time":99,"surv":0.566},{"panel":"B","group":"TLS-high","time":101,"surv":0.566},{"panel":"B","group":"TLS-high","time":110,"surv":0.566},{"panel":"B","group":"TLS-high","time":114,"surv":0.566},{"panel":"B","group":"TLS-high","time":119,"surv":0.566},
  {"panel":"B","group":"TLS-low","time":25,"surv":0.77},{"panel":"B","group":"TLS-low","time":26,"surv":0.76},{"panel":"B","group":"TLS-low","time":28,"surv":0.752},{"panel":"B","group":"TLS-low","time":29,"surv":0.752},{"panel":"B","group":"TLS-low","time":30,"surv":0.752},{"panel":"B","group":"TLS-low","time":32,"surv":0.738},{"panel":"B","group":"TLS-low","time":34,"surv":0.73},{"panel":"B","group":"TLS-low","time":38,"surv":0.707},{"panel":"B","group":"TLS-low","time":39,"surv":0.707},{"panel":"B","group":"TLS-low","time":42,"surv":0.703},{"panel":"B","group":"TLS-low","time":45,"surv":0.703},{"panel":"B","group":"TLS-low","time":47,"surv":0.689},{"panel":"B","group":"TLS-low","time":49,"surv":0.676},{"panel":"B","group":"TLS-low","time":51,"surv":0.676},{"panel":"B","group":"TLS-low","time":53,"surv":0.667},{"panel":"B","group":"TLS-low","time":56,"surv":0.653},{"panel":"B","group":"TLS-low","time":58,"surv":0.64},{"panel":"B","group":"TLS-low","time":59,"surv":0.64},{"panel":"B","group":"TLS-low","time":63,"surv":0.627},{"panel":"B","group":"TLS-low","time":64,"surv":0.627},{"panel":"B","group":"TLS-low","time":67,"surv":0.618},{"panel":"B","group":"TLS-low","time":69,"surv":0.609},{"panel":"B","group":"TLS-low","time":73.5,"surv":0.566},{"panel":"B","group":"TLS-low","time":75,"surv":0.566},{"panel":"B","group":"TLS-low","time":77,"surv":0.566},{"panel":"B","group":"TLS-low","time":79,"surv":0.543},{"panel":"B","group":"TLS-low","time":81,"surv":0.543},{"panel":"B","group":"TLS-low","time":83,"surv":0.543},{"panel":"B","group":"TLS-low","time":85,"surv":0.543},{"panel":"B","group":"TLS-low","time":87,"surv":0.543},{"panel":"B","group":"TLS-low","time":91,"surv":0.523},{"panel":"B","group":"TLS-low","time":95,"surv":0.51},{"panel":"B","group":"TLS-low","time":98,"surv":0.487},{"panel":"B","group":"TLS-low","time":103,"surv":0.461},{"panel":"B","group":"TLS-low","time":107,"surv":0.461},{"panel":"B","group":"TLS-low","time":109,"surv":0.461},{"panel":"B","group":"TLS-low","time":112,"surv":0.461},{"panel":"B","group":"TLS-low","time":115,"surv":0.461},{"panel":"B","group":"TLS-low","time":119,"surv":0.461},{"panel":"B","group":"TLS-low","time":123,"surv":0.461},
  {"panel":"C","group":"TLS-high","time":25,"surv":0.873},{"panel":"C","group":"TLS-high","time":27,"surv":0.846},{"panel":"C","group":"TLS-high","time":30,"surv":0.823},{"panel":"C","group":"TLS-high","time":33,"surv":0.81},{"panel":"C","group":"TLS-high","time":35,"surv":0.81},{"panel":"C","group":"TLS-high","time":38,"surv":0.797},{"panel":"C","group":"TLS-high","time":41,"surv":0.779},{"panel":"C","group":"TLS-high","time":45,"surv":0.77},{"panel":"C","group":"TLS-high","time":49,"surv":0.761},{"panel":"C","group":"TLS-high","time":51,"surv":0.761},{"panel":"C","group":"TLS-high","time":54,"surv":0.761},{"panel":"C","group":"TLS-high","time":56,"surv":0.761},{"panel":"C","group":"TLS-high","time":58,"surv":0.761},{"panel":"C","group":"TLS-high","time":60,"surv":0.761},{"panel":"C","group":"TLS-high","time":62,"surv":0.761},{"panel":"C","group":"TLS-high","time":65,"surv":0.747},{"panel":"C","group":"TLS-high","time":67,"surv":0.747},{"panel":"C","group":"TLS-high","time":70,"surv":0.747},{"panel":"C","group":"TLS-high","time":74,"surv":0.729},{"panel":"C","group":"TLS-high","time":78,"surv":0.676},{"panel":"C","group":"TLS-high","time":80,"surv":0.649},{"panel":"C","group":"TLS-high","time":83,"surv":0.635},{"panel":"C","group":"TLS-high","time":86,"surv":0.626},{"panel":"C","group":"TLS-high","time":88,"surv":0.626},{"panel":"C","group":"TLS-high","time":92,"surv":0.586},{"panel":"C","group":"TLS-high","time":95,"surv":0.568},{"panel":"C","group":"TLS-high","time":98,"surv":0.528},{"panel":"C","group":"TLS-high","time":101,"surv":0.528},{"panel":"C","group":"TLS-high","time":104,"surv":0.528},{"panel":"C","group":"TLS-high","time":107,"surv":0.528},{"panel":"C","group":"TLS-high","time":109,"surv":0.528},{"panel":"C","group":"TLS-high","time":112,"surv":0.528},{"panel":"C","group":"TLS-high","time":115,"surv":0.528},{"panel":"C","group":"TLS-high","time":118,"surv":0.528},{"panel":"C","group":"TLS-high","time":120,"surv":0.528},
  {"panel":"C","group":"TLS-low","time":24,"surv":0.703},{"panel":"C","group":"TLS-low","time":25,"surv":0.69},{"panel":"C","group":"TLS-low","time":27,"surv":0.68},{"panel":"C","group":"TLS-low","time":29,"surv":0.68},{"panel":"C","group":"TLS-low","time":31,"surv":0.667},{"panel":"C","group":"TLS-low","time":33,"surv":0.667},{"panel":"C","group":"TLS-low","time":36,"surv":0.653},{"panel":"C","group":"TLS-low","time":40,"surv":0.635},{"panel":"C","group":"TLS-low","time":44,"surv":0.622},{"panel":"C","group":"TLS-low","time":48,"surv":0.609},{"panel":"C","group":"TLS-low","time":50,"surv":0.609},{"panel":"C","group":"TLS-low","time":52,"surv":0.595},{"panel":"C","group":"TLS-low","time":55,"surv":0.586},{"panel":"C","group":"TLS-low","time":57,"surv":0.573},{"panel":"C","group":"TLS-low","time":61,"surv":0.555},{"panel":"C","group":"TLS-low","time":64,"surv":0.55},{"panel":"C","group":"TLS-low","time":66,"surv":0.55},{"panel":"C","group":"TLS-low","time":68,"surv":0.546},{"panel":"C","group":"TLS-low","time":71,"surv":0.528},{"panel":"C","group":"TLS-low","time":74,"surv":0.505},{"panel":"C","group":"TLS-low","time":76,"surv":0.505},{"panel":"C","group":"TLS-low","time":79,"surv":0.496},{"panel":"C","group":"TLS-low","time":81,"surv":0.496},{"panel":"C","group":"TLS-low","time":83,"surv":0.496},{"panel":"C","group":"TLS-low","time":85,"surv":0.496},{"panel":"C","group":"TLS-low","time":87,"surv":0.483},{"panel":"C","group":"TLS-low","time":90,"surv":0.483},{"panel":"C","group":"TLS-low","time":94,"surv":0.461},{"panel":"C","group":"TLS-low","time":97,"surv":0.461},{"panel":"C","group":"TLS-low","time":102,"surv":0.42},{"panel":"C","group":"TLS-low","time":106,"surv":0.4},{"panel":"C","group":"TLS-low","time":108,"surv":0.4},{"panel":"C","group":"TLS-low","time":110,"surv":0.4},{"panel":"C","group":"TLS-low","time":114,"surv":0.4},{"panel":"C","group":"TLS-low","time":118,"surv":0.4},{"panel":"C","group":"TLS-low","time":123,"surv":0.4},
  {"panel":"D","group":"TLS-high","time":24,"surv":0.834},{"panel":"D","group":"TLS-high","time":25,"surv":0.834},{"panel":"D","group":"TLS-high","time":27,"surv":0.812},{"panel":"D","group":"TLS-high","time":29,"surv":0.812},{"panel":"D","group":"TLS-high","time":36,"surv":0.79},{"panel":"D","group":"TLS-high","time":37.5,"surv":0.776},{"panel":"D","group":"TLS-high","time":40,"surv":0.754},{"panel":"D","group":"TLS-high","time":47,"surv":0.754},{"panel":"D","group":"TLS-high","time":48,"surv":0.754},{"panel":"D","group":"TLS-high","time":53,"surv":0.754},{"panel":"D","group":"TLS-high","time":55,"surv":0.754},{"panel":"D","group":"TLS-high","time":57,"surv":0.754},{"panel":"D","group":"TLS-high","time":58,"surv":0.754},{"panel":"D","group":"TLS-high","time":59,"surv":0.754},{"panel":"D","group":"TLS-high","time":60,"surv":0.754},{"panel":"D","group":"TLS-high","time":66,"surv":0.754},{"panel":"D","group":"TLS-high","time":69,"surv":0.754},{"panel":"D","group":"TLS-high","time":71,"surv":0.754},{"panel":"D","group":"TLS-high","time":72,"surv":0.754},{"panel":"D","group":"TLS-high","time":78,"surv":0.714},{"panel":"D","group":"TLS-high","time":81,"surv":0.678},{"panel":"D","group":"TLS-high","time":83,"surv":0.633},{"panel":"D","group":"TLS-high","time":84,"surv":0.633},{"panel":"D","group":"TLS-high","time":89.5,"surv":0.633},{"panel":"D","group":"TLS-high","time":106,"surv":0.562},{"panel":"D","group":"TLS-high","time":109,"surv":0.562},{"panel":"D","group":"TLS-high","time":112,"surv":0.562},{"panel":"D","group":"TLS-high","time":113,"surv":0.562},{"panel":"D","group":"TLS-high","time":115,"surv":0.562},
  {"panel":"D","group":"TLS-low","time":24,"surv":0.678},{"panel":"D","group":"TLS-low","time":25,"surv":0.66},{"panel":"D","group":"TLS-low","time":26,"surv":0.66},{"panel":"D","group":"TLS-low","time":27,"surv":0.66},{"panel":"D","group":"TLS-low","time":29,"surv":0.656},{"panel":"D","group":"TLS-low","time":30.5,"surv":0.656},{"panel":"D","group":"TLS-low","time":34,"surv":0.651},{"panel":"D","group":"TLS-low","time":36,"surv":0.642},{"panel":"D","group":"TLS-low","time":38,"surv":0.629},{"panel":"D","group":"TLS-low","time":48,"surv":0.611},{"panel":"D","group":"TLS-low","time":49,"surv":0.611},{"panel":"D","group":"TLS-low","time":50,"surv":0.611},{"panel":"D","group":"TLS-low","time":51,"surv":0.611},{"panel":"D","group":"TLS-low","time":52,"surv":0.611},{"panel":"D","group":"TLS-low","time":54,"surv":0.611},{"panel":"D","group":"TLS-low","time":55,"surv":0.59},{"panel":"D","group":"TLS-low","time":58,"surv":0.575},{"panel":"D","group":"TLS-low","time":60,"surv":0.575},{"panel":"D","group":"TLS-low","time":65,"surv":0.553},{"panel":"D","group":"TLS-low","time":67,"surv":0.535},{"panel":"D","group":"TLS-low","time":69,"surv":0.513},{"panel":"D","group":"TLS-low","time":71,"surv":0.499},{"panel":"D","group":"TLS-low","time":72,"surv":0.499},{"panel":"D","group":"TLS-low","time":74,"surv":0.483},{"panel":"D","group":"TLS-low","time":76,"surv":0.483},{"panel":"D","group":"TLS-low","time":79,"surv":0.483},{"panel":"D","group":"TLS-low","time":80,"surv":0.483},{"panel":"D","group":"TLS-low","time":81,"surv":0.483},{"panel":"D","group":"TLS-low","time":82,"surv":0.483},{"panel":"D","group":"TLS-low","time":83,"surv":0.483},{"panel":"D","group":"TLS-low","time":84,"surv":0.483},{"panel":"D","group":"TLS-low","time":86,"surv":0.463},{"panel":"D","group":"TLS-low","time":87,"surv":0.463},{"panel":"D","group":"TLS-low","time":88,"surv":0.463},{"panel":"D","group":"TLS-low","time":92,"surv":0.463},{"panel":"D","group":"TLS-low","time":96,"surv":0.463},{"panel":"D","group":"TLS-low","time":98,"surv":0.463},{"panel":"D","group":"TLS-low","time":101,"surv":0.463},{"panel":"D","group":"TLS-low","time":102,"surv":0.463},{"panel":"D","group":"TLS-low","time":108,"surv":0.416},{"panel":"D","group":"TLS-low","time":114,"surv":0.416},
  {"panel":"E","group":"TLS-high","time":24,"surv":0.826},{"panel":"E","group":"TLS-high","time":25,"surv":0.826},{"panel":"E","group":"TLS-high","time":26,"surv":0.803},{"panel":"E","group":"TLS-high","time":27,"surv":0.803},{"panel":"E","group":"TLS-high","time":29,"surv":0.776},{"panel":"E","group":"TLS-high","time":30,"surv":0.776},{"panel":"E","group":"TLS-high","time":34,"surv":0.758},{"panel":"E","group":"TLS-high","time":35,"surv":0.758},{"panel":"E","group":"TLS-high","time":38,"surv":0.75},{"panel":"E","group":"TLS-high","time":44,"surv":0.727},{"panel":"E","group":"TLS-high","time":45,"surv":0.727},{"panel":"E","group":"TLS-high","time":47,"surv":0.712},{"panel":"E","group":"TLS-high","time":54,"surv":0.712},{"panel":"E","group":"TLS-high","time":55,"surv":0.712},{"panel":"E","group":"TLS-high","time":56,"surv":0.712},{"panel":"E","group":"TLS-high","time":63,"surv":0.712},{"panel":"E","group":"TLS-high","time":65,"surv":0.7},{"panel":"E","group":"TLS-high","time":66,"surv":0.7},{"panel":"E","group":"TLS-high","time":69,"surv":0.7},{"panel":"E","group":"TLS-high","time":71,"surv":0.7},{"panel":"E","group":"TLS-high","time":74,"surv":0.696},{"panel":"E","group":"TLS-high","time":75,"surv":0.678},{"panel":"E","group":"TLS-high","time":76,"surv":0.678},{"panel":"E","group":"TLS-high","time":81,"surv":0.633},{"panel":"E","group":"TLS-high","time":82,"surv":0.633},{"panel":"E","group":"TLS-high","time":86,"surv":0.598},{"panel":"E","group":"TLS-high","time":88,"surv":0.598},{"panel":"E","group":"TLS-high","time":89.5,"surv":0.598},{"panel":"E","group":"TLS-high","time":93,"surv":0.519},{"panel":"E","group":"TLS-high","time":101,"surv":0.519},{"panel":"E","group":"TLS-high","time":102,"surv":0.519},{"panel":"E","group":"TLS-high","time":104,"surv":0.519},{"panel":"E","group":"TLS-high","time":106,"surv":0.519},{"panel":"E","group":"TLS-high","time":107,"surv":0.519},{"panel":"E","group":"TLS-high","time":109,"surv":0.519},{"panel":"E","group":"TLS-high","time":112,"surv":0.519},{"panel":"E","group":"TLS-high","time":114,"surv":0.519},{"panel":"E","group":"TLS-high","time":118,"surv":0.519},{"panel":"E","group":"TLS-high","time":121,"surv":0.519},
  {"panel":"E","group":"TLS-low","time":24,"surv":0.642},{"panel":"E","group":"TLS-low","time":25,"surv":0.642},{"panel":"E","group":"TLS-low","time":26,"surv":0.629},{"panel":"E","group":"TLS-low","time":27,"surv":0.629},{"panel":"E","group":"TLS-low","time":29,"surv":0.611},{"panel":"E","group":"TLS-low","time":30,"surv":0.611},{"panel":"E","group":"TLS-low","time":32,"surv":0.598},{"panel":"E","group":"TLS-low","time":33,"surv":0.598},{"panel":"E","group":"TLS-low","time":34,"surv":0.598},{"panel":"E","group":"TLS-low","time":36,"surv":0.584},{"panel":"E","group":"TLS-low","time":38,"surv":0.571},{"panel":"E","group":"TLS-low","time":41,"surv":0.553},{"panel":"E","group":"TLS-low","time":48,"surv":0.539},{"panel":"E","group":"TLS-low","time":50,"surv":0.533},{"panel":"E","group":"TLS-low","time":53,"surv":0.521},{"panel":"E","group":"TLS-low","time":54,"surv":0.521},{"panel":"E","group":"TLS-low","time":56,"surv":0.521},{"panel":"E","group":"TLS-low","time":57,"surv":0.513},{"panel":"E","group":"TLS-low","time":60,"surv":0.481},{"panel":"E","group":"TLS-low","time":61,"surv":0.481},{"panel":"E","group":"TLS-low","time":63,"surv":0.481},{"panel":"E","group":"TLS-low","time":66,"surv":0.468},{"panel":"E","group":"TLS-low","time":68,"surv":0.468},{"panel":"E","group":"TLS-low","time":70,"surv":0.468},{"panel":"E","group":"TLS-low","time":74,"surv":0.432},{"panel":"E","group":"TLS-low","time":76,"surv":0.432},{"panel":"E","group":"TLS-low","time":78,"surv":0.432},{"panel":"E","group":"TLS-low","time":80,"surv":0.432},{"panel":"E","group":"TLS-low","time":82,"surv":0.432},{"panel":"E","group":"TLS-low","time":84,"surv":0.432},{"panel":"E","group":"TLS-low","time":85,"surv":0.432},{"panel":"E","group":"TLS-low","time":87,"surv":0.419},{"panel":"E","group":"TLS-low","time":89,"surv":0.419},{"panel":"E","group":"TLS-low","time":90,"surv":0.419},{"panel":"E","group":"TLS-low","time":93,"surv":0.401},{"panel":"E","group":"TLS-low","time":95,"surv":0.401},{"panel":"E","group":"TLS-low","time":97,"surv":0.401},{"panel":"E","group":"TLS-low","time":99,"surv":0.401},{"panel":"E","group":"TLS-low","time":106,"surv":0.343},{"panel":"E","group":"TLS-low","time":108,"surv":0.343},{"panel":"E","group":"TLS-low","time":115,"surv":0.343},{"panel":"E","group":"TLS-low","time":122,"surv":0.293},{"panel":"E","group":"TLS-low","time":124,"surv":0.293},
  {"panel":"F","group":"TLS-high","time":24.9,"surv":0.81},{"panel":"F","group":"TLS-high","time":54.4,"surv":0.743},{"panel":"F","group":"TLS-high","time":60.9,"surv":0.743},{"panel":"F","group":"TLS-high","time":63.2,"surv":0.743},{"panel":"F","group":"TLS-high","time":69.7,"surv":0.743},{"panel":"F","group":"TLS-high","time":71.7,"surv":0.743},{"panel":"F","group":"TLS-high","time":72.8,"surv":0.743},{"panel":"F","group":"TLS-high","time":75.6,"surv":0.743},{"panel":"F","group":"TLS-high","time":92.7,"surv":0.743},{"panel":"F","group":"TLS-high","time":101.2,"surv":0.743},{"panel":"F","group":"TLS-high","time":112,"surv":0.743},
  {"panel":"F","group":"TLS-low","time":35.5,"surv":0.642},{"panel":"F","group":"TLS-low","time":36.5,"surv":0.642},{"panel":"F","group":"TLS-low","time":54.7,"surv":0.611},{"panel":"F","group":"TLS-low","time":66.6,"surv":0.546},{"panel":"F","group":"TLS-low","time":69.7,"surv":0.546},{"panel":"F","group":"TLS-low","time":70.2,"surv":0.546},{"panel":"F","group":"TLS-low","time":80.5,"surv":0.504},{"panel":"F","group":"TLS-low","time":83.1,"surv":0.504},{"panel":"F","group":"TLS-low","time":88.8,"surv":0.504},{"panel":"F","group":"TLS-low","time":94,"surv":0.419},{"panel":"F","group":"TLS-low","time":107.9,"surv":0.419}
]
},
"resolve": {"scale": {"color": "independent"}, "legend": {"color": "independent"}},
"spacing": 10,
"vconcat": [
{"hconcat": [
 {"title": {"text": "A", "orient": "left", "anchor": "end", "angle": 0, "align": "left", "baseline": "top", "offset": -42.7, "dy": 2, "fontSize": 38, "fontWeight": "bold"},
  "spacing": 15, "resolve": {"scale": {"color": "independent"}, "legend": {"color": "independent"}},
  "vconcat": [
   {"width": 462, "height": 390, "title": {"text": "Age: < 65 years", "fontSize": 37, "fontWeight": "normal", "baseline": "alphabetic", "offset": -27},
    "layer": [
     {"data": {"name": "steps"}, "transform": [{"filter": "datum.panel == 'A'"}], "mark": {"type": "line", "interpolate": "step-after", "strokeWidth": 2},
      "encoding": {"x": {"field": "time", "type": "quantitative", "scale": {"domain": [0, 125], "nice": false, "zero": false}, "axis": {"values": [0,12,24,36,48,60,72,84,96,108,120], "title": "Time from surgery (months)"}},
       "y": {"field": "surv", "type": "quantitative", "scale": {"domain": [0, 1.05], "nice": false}, "axis": {"values": [0,0.25,0.5,0.75,1], "format": ".2f", "title": ["Probability of", "disease-free survival"]}},
       "color": {"field": "group", "type": "nominal", "scale": {"domain": ["TLS-low", "TLS-high"], "range": ["#ff0000", "#1f4e9a"]}, "legend": {"title": null, "orient": "none", "legendX": 20, "legendY": 285, "symbolType": "M-1,0H1M0,-0.45V0.45", "symbolSize": 225, "symbolStrokeWidth": 2, "labelFontSize": 15, "labelOffset": 11, "rowPadding": 3, "padding": 0}}}},
     {"data": {"name": "censor"}, "transform": [{"filter": "datum.panel == 'A'"}], "mark": {"type": "point", "shape": "M-1,0H1M0,-1V1", "filled": false, "size": 49, "strokeWidth": 1.3, "opacity": 1},
      "encoding": {"x": {"field": "time", "type": "quantitative"}, "y": {"field": "surv", "type": "quantitative"}, "color": {"field": "group", "type": "nominal"}}},
     {"data": {"name": "notes"}, "transform": [{"filter": "datum.panel == 'A'"}], "mark": {"type": "text", "align": "left", "baseline": "middle", "fontSize": 15, "color": "#1a1a1a"},
      "encoding": {"x": {"datum": 5.4}, "y": {"datum": 0.095}, "text": {"field": "pval"}}}
    ]},
   {"width": 462, "height": 96, "title": {"text": "Number at risk", "anchor": "start", "frame": "group", "fontSize": 18, "fontWeight": "normal", "baseline": "alphabetic", "offset": -1},
    "data": {"name": "risk"}, "transform": [{"filter": "datum.panel == 'A'"}],
    "encoding": {"x": {"field": "time", "type": "quantitative", "scale": {"domain": [0, 125], "nice": false, "zero": false}, "axis": null},
     "y": {"field": "group", "type": "nominal", "scale": {"domain": ["TLS-low", "TLS-high"]}, "axis": {"title": null, "domain": false, "ticks": false, "labelFontSize": 12.5, "labelPadding": 6, "labelColor": {"condition": {"test": "datum.value == 'TLS-low'", "value": "#ff0000"}, "value": "#2a5caa"}}},
     "text": {"field": "n", "type": "quantitative"}},
    "layer": [
     {"transform": [{"filter": "datum.time == 0"}], "mark": {"type": "text", "align": "left", "fontSize": 15.5, "color": "black"}},
     {"transform": [{"filter": "datum.time > 0"}], "mark": {"type": "text", "align": "center", "fontSize": 15.5, "color": "black"}}
    ]}
  ]},
 {"title": {"text": "B", "orient": "left", "anchor": "end", "angle": 0, "align": "left", "baseline": "top", "offset": -41.7, "dy": 2, "fontSize": 38, "fontWeight": "bold"},
  "spacing": 15, "resolve": {"scale": {"color": "independent"}, "legend": {"color": "independent"}},
  "vconcat": [
   {"width": 462, "height": 390, "title": {"text": "Sex: female", "fontSize": 37, "fontWeight": "normal", "baseline": "alphabetic", "offset": -27},
    "layer": [
     {"data": {"name": "steps"}, "transform": [{"filter": "datum.panel == 'B'"}], "mark": {"type": "line", "interpolate": "step-after", "strokeWidth": 2},
      "encoding": {"x": {"field": "time", "type": "quantitative", "scale": {"domain": [0, 125], "nice": false, "zero": false}, "axis": {"values": [0,12,24,36,48,60,72,84,96,108,120], "title": "Time from surgery (months)"}},
       "y": {"field": "surv", "type": "quantitative", "scale": {"domain": [0, 1.05], "nice": false}, "axis": {"values": [0,0.25,0.5,0.75,1], "format": ".2f", "title": ["Probability of", "disease-free survival"]}},
       "color": {"field": "group", "type": "nominal", "scale": {"domain": ["TLS-low", "TLS-high"], "range": ["#ff0000", "#1f4e9a"]}, "legend": {"title": null, "orient": "none", "legendX": 20, "legendY": 285, "symbolType": "M-1,0H1M0,-0.45V0.45", "symbolSize": 225, "symbolStrokeWidth": 2, "labelFontSize": 15, "labelOffset": 11, "rowPadding": 3, "padding": 0}}}},
     {"data": {"name": "censor"}, "transform": [{"filter": "datum.panel == 'B'"}], "mark": {"type": "point", "shape": "M-1,0H1M0,-1V1", "filled": false, "size": 49, "strokeWidth": 1.3, "opacity": 1},
      "encoding": {"x": {"field": "time", "type": "quantitative"}, "y": {"field": "surv", "type": "quantitative"}, "color": {"field": "group", "type": "nominal"}}},
     {"data": {"name": "notes"}, "transform": [{"filter": "datum.panel == 'B'"}], "mark": {"type": "text", "align": "left", "baseline": "middle", "fontSize": 15, "color": "#1a1a1a"},
      "encoding": {"x": {"datum": 5.4}, "y": {"datum": 0.095}, "text": {"field": "pval"}}}
    ]},
   {"width": 462, "height": 96, "title": {"text": "Number at risk", "anchor": "start", "frame": "group", "fontSize": 18, "fontWeight": "normal", "baseline": "alphabetic", "offset": -1},
    "data": {"name": "risk"}, "transform": [{"filter": "datum.panel == 'B'"}],
    "encoding": {"x": {"field": "time", "type": "quantitative", "scale": {"domain": [0, 125], "nice": false, "zero": false}, "axis": null},
     "y": {"field": "group", "type": "nominal", "scale": {"domain": ["TLS-low", "TLS-high"]}, "axis": {"title": null, "domain": false, "ticks": false, "labelFontSize": 12.5, "labelPadding": 6, "labelColor": {"condition": {"test": "datum.value == 'TLS-low'", "value": "#ff0000"}, "value": "#2a5caa"}}},
     "text": {"field": "n", "type": "quantitative"}},
    "layer": [
     {"transform": [{"filter": "datum.time == 0"}], "mark": {"type": "text", "align": "left", "fontSize": 15.5, "color": "black"}},
     {"transform": [{"filter": "datum.time > 0"}], "mark": {"type": "text", "align": "center", "fontSize": 15.5, "color": "black"}}
    ]}
  ]},
 {"title": {"text": "C", "orient": "left", "anchor": "end", "angle": 0, "align": "left", "baseline": "top", "offset": -31.9, "dy": 2, "fontSize": 38, "fontWeight": "bold"},
  "spacing": 15, "resolve": {"scale": {"color": "independent"}, "legend": {"color": "independent"}},
  "vconcat": [
   {"width": 462, "height": 390, "title": {"text": "Family history: no", "fontSize": 37, "fontWeight": "normal", "baseline": "alphabetic", "offset": -27},
    "layer": [
     {"data": {"name": "steps"}, "transform": [{"filter": "datum.panel == 'C'"}], "mark": {"type": "line", "interpolate": "step-after", "strokeWidth": 2},
      "encoding": {"x": {"field": "time", "type": "quantitative", "scale": {"domain": [0, 125], "nice": false, "zero": false}, "axis": {"values": [0,12,24,36,48,60,72,84,96,108,120], "title": "Time from surgery (months)"}},
       "y": {"field": "surv", "type": "quantitative", "scale": {"domain": [0, 1.05], "nice": false}, "axis": {"values": [0,0.25,0.5,0.75,1], "format": ".2f", "title": ["Probability of", "disease-free survival"]}},
       "color": {"field": "group", "type": "nominal", "scale": {"domain": ["TLS-low", "TLS-high"], "range": ["#ff0000", "#1f4e9a"]}, "legend": {"title": null, "orient": "none", "legendX": 20, "legendY": 285, "symbolType": "M-1,0H1M0,-0.45V0.45", "symbolSize": 225, "symbolStrokeWidth": 2, "labelFontSize": 15, "labelOffset": 11, "rowPadding": 3, "padding": 0}}}},
     {"data": {"name": "censor"}, "transform": [{"filter": "datum.panel == 'C'"}], "mark": {"type": "point", "shape": "M-1,0H1M0,-1V1", "filled": false, "size": 49, "strokeWidth": 1.3, "opacity": 1},
      "encoding": {"x": {"field": "time", "type": "quantitative"}, "y": {"field": "surv", "type": "quantitative"}, "color": {"field": "group", "type": "nominal"}}},
     {"data": {"name": "notes"}, "transform": [{"filter": "datum.panel == 'C'"}], "mark": {"type": "text", "align": "left", "baseline": "middle", "fontSize": 15, "color": "#1a1a1a"},
      "encoding": {"x": {"datum": 5.4}, "y": {"datum": 0.095}, "text": {"field": "pval"}}}
    ]},
   {"width": 462, "height": 96, "title": {"text": "Number at risk", "anchor": "start", "frame": "group", "fontSize": 18, "fontWeight": "normal", "baseline": "alphabetic", "offset": -1},
    "data": {"name": "risk"}, "transform": [{"filter": "datum.panel == 'C'"}],
    "encoding": {"x": {"field": "time", "type": "quantitative", "scale": {"domain": [0, 125], "nice": false, "zero": false}, "axis": null},
     "y": {"field": "group", "type": "nominal", "scale": {"domain": ["TLS-low", "TLS-high"]}, "axis": {"title": null, "domain": false, "ticks": false, "labelFontSize": 12.5, "labelPadding": 6, "labelColor": {"condition": {"test": "datum.value == 'TLS-low'", "value": "#ff0000"}, "value": "#2a5caa"}}},
     "text": {"field": "n", "type": "quantitative"}},
    "layer": [
     {"transform": [{"filter": "datum.time == 0"}], "mark": {"type": "text", "align": "left", "fontSize": 15.5, "color": "black"}},
     {"transform": [{"filter": "datum.time > 0"}], "mark": {"type": "text", "align": "center", "fontSize": 15.5, "color": "black"}}
    ]}
  ]}
], "spacing": 14, "resolve": {"scale": {"color": "independent"}, "legend": {"color": "independent"}}},
{"hconcat": [
 {"title": {"text": "D", "orient": "left", "anchor": "end", "angle": 0, "align": "left", "baseline": "top", "offset": -55.7, "dy": 9, "fontSize": 38, "fontWeight": "bold"},
  "spacing": 15, "resolve": {"scale": {"color": "independent"}, "legend": {"color": "independent"}},
  "vconcat": [
   {"width": 462, "height": 390, "title": {"text": "Age: ≥65 years", "fontSize": 37, "fontWeight": "normal", "baseline": "alphabetic", "offset": -23},
    "layer": [
     {"data": {"name": "steps"}, "transform": [{"filter": "datum.panel == 'D'"}], "mark": {"type": "line", "interpolate": "step-after", "strokeWidth": 2},
      "encoding": {"x": {"field": "time", "type": "quantitative", "scale": {"domain": [0, 125], "nice": false, "zero": false}, "axis": {"values": [0,12,24,36,48,60,72,84,96,108,120], "title": "Time from surgery (months)"}},
       "y": {"field": "surv", "type": "quantitative", "scale": {"domain": [0, 1.05], "nice": false}, "axis": {"values": [0,0.25,0.5,0.75,1], "format": ".2f", "title": ["Probability of", "disease-free survival"]}},
       "color": {"field": "group", "type": "nominal", "scale": {"domain": ["TLS-low", "TLS-high"], "range": ["#ff0000", "#1f4e9a"]}, "legend": {"title": null, "orient": "none", "legendX": 20, "legendY": 285, "symbolType": "M-1,0H1M0,-0.45V0.45", "symbolSize": 225, "symbolStrokeWidth": 2, "labelFontSize": 15, "labelOffset": 11, "rowPadding": 3, "padding": 0}}}},
     {"data": {"name": "censor"}, "transform": [{"filter": "datum.panel == 'D'"}], "mark": {"type": "point", "shape": "M-1,0H1M0,-1V1", "filled": false, "size": 49, "strokeWidth": 1.3, "opacity": 1},
      "encoding": {"x": {"field": "time", "type": "quantitative"}, "y": {"field": "surv", "type": "quantitative"}, "color": {"field": "group", "type": "nominal"}}},
     {"data": {"name": "notes"}, "transform": [{"filter": "datum.panel == 'D'"}], "mark": {"type": "text", "align": "left", "baseline": "middle", "fontSize": 15, "color": "#1a1a1a"},
      "encoding": {"x": {"datum": 5.4}, "y": {"datum": 0.095}, "text": {"field": "pval"}}}
    ]},
   {"width": 462, "height": 96, "title": {"text": "Number at risk", "anchor": "start", "frame": "group", "fontSize": 18, "fontWeight": "normal", "baseline": "alphabetic", "offset": -1},
    "data": {"name": "risk"}, "transform": [{"filter": "datum.panel == 'D'"}],
    "encoding": {"x": {"field": "time", "type": "quantitative", "scale": {"domain": [0, 125], "nice": false, "zero": false}, "axis": null},
     "y": {"field": "group", "type": "nominal", "scale": {"domain": ["TLS-low", "TLS-high"]}, "axis": {"title": null, "domain": false, "ticks": false, "labelFontSize": 12.5, "labelPadding": 6, "labelColor": {"condition": {"test": "datum.value == 'TLS-low'", "value": "#ff0000"}, "value": "#2a5caa"}}},
     "text": {"field": "n", "type": "quantitative"}},
    "layer": [
     {"transform": [{"filter": "datum.time == 0"}], "mark": {"type": "text", "align": "left", "fontSize": 15.5, "color": "black"}},
     {"transform": [{"filter": "datum.time > 0"}], "mark": {"type": "text", "align": "center", "fontSize": 15.5, "color": "black"}}
    ]}
  ]},
 {"title": {"text": "E", "orient": "left", "anchor": "end", "angle": 0, "align": "left", "baseline": "top", "offset": -36.7, "dy": 9, "fontSize": 38, "fontWeight": "bold"},
  "spacing": 15, "resolve": {"scale": {"color": "independent"}, "legend": {"color": "independent"}},
  "vconcat": [
   {"width": 462, "height": 390, "title": {"text": "Sex: male", "fontSize": 37, "fontWeight": "normal", "baseline": "alphabetic", "offset": -23},
    "layer": [
     {"data": {"name": "steps"}, "transform": [{"filter": "datum.panel == 'E'"}], "mark": {"type": "line", "interpolate": "step-after", "strokeWidth": 2},
      "encoding": {"x": {"field": "time", "type": "quantitative", "scale": {"domain": [0, 125], "nice": false, "zero": false}, "axis": {"values": [0,12,24,36,48,60,72,84,96,108,120], "title": "Time from surgery (months)"}},
       "y": {"field": "surv", "type": "quantitative", "scale": {"domain": [0, 1.05], "nice": false}, "axis": {"values": [0,0.25,0.5,0.75,1], "format": ".2f", "title": ["Probability of", "disease-free survival"]}},
       "color": {"field": "group", "type": "nominal", "scale": {"domain": ["TLS-low", "TLS-high"], "range": ["#ff0000", "#1f4e9a"]}, "legend": {"title": null, "orient": "none", "legendX": 20, "legendY": 285, "symbolType": "M-1,0H1M0,-0.45V0.45", "symbolSize": 225, "symbolStrokeWidth": 2, "labelFontSize": 15, "labelOffset": 11, "rowPadding": 3, "padding": 0}}}},
     {"data": {"name": "censor"}, "transform": [{"filter": "datum.panel == 'E'"}], "mark": {"type": "point", "shape": "M-1,0H1M0,-1V1", "filled": false, "size": 49, "strokeWidth": 1.3, "opacity": 1},
      "encoding": {"x": {"field": "time", "type": "quantitative"}, "y": {"field": "surv", "type": "quantitative"}, "color": {"field": "group", "type": "nominal"}}},
     {"data": {"name": "notes"}, "transform": [{"filter": "datum.panel == 'E'"}], "mark": {"type": "text", "align": "left", "baseline": "middle", "fontSize": 15, "color": "#1a1a1a"},
      "encoding": {"x": {"datum": 5.4}, "y": {"datum": 0.095}, "text": {"field": "pval"}}}
    ]},
   {"width": 462, "height": 96, "title": {"text": "Number at risk", "anchor": "start", "frame": "group", "fontSize": 18, "fontWeight": "normal", "baseline": "alphabetic", "offset": -1},
    "data": {"name": "risk"}, "transform": [{"filter": "datum.panel == 'E'"}],
    "encoding": {"x": {"field": "time", "type": "quantitative", "scale": {"domain": [0, 125], "nice": false, "zero": false}, "axis": null},
     "y": {"field": "group", "type": "nominal", "scale": {"domain": ["TLS-low", "TLS-high"]}, "axis": {"title": null, "domain": false, "ticks": false, "labelFontSize": 12.5, "labelPadding": 6, "labelColor": {"condition": {"test": "datum.value == 'TLS-low'", "value": "#ff0000"}, "value": "#2a5caa"}}},
     "text": {"field": "n", "type": "quantitative"}},
    "layer": [
     {"transform": [{"filter": "datum.time == 0"}], "mark": {"type": "text", "align": "left", "fontSize": 15.5, "color": "black"}},
     {"transform": [{"filter": "datum.time > 0"}], "mark": {"type": "text", "align": "center", "fontSize": 15.5, "color": "black"}}
    ]}
  ]},
 {"title": {"text": "F", "orient": "left", "anchor": "end", "angle": 0, "align": "left", "baseline": "top", "offset": -26.1, "dy": 9, "fontSize": 38, "fontWeight": "bold"},
  "spacing": 15, "resolve": {"scale": {"color": "independent"}, "legend": {"color": "independent"}},
  "vconcat": [
   {"width": 462, "height": 390, "title": {"text": "Family history: yes", "fontSize": 37, "fontWeight": "normal", "baseline": "alphabetic", "offset": -23},
    "layer": [
     {"data": {"name": "steps"}, "transform": [{"filter": "datum.panel == 'F'"}], "mark": {"type": "line", "interpolate": "step-after", "strokeWidth": 2},
      "encoding": {"x": {"field": "time", "type": "quantitative", "scale": {"domain": [0, 125], "nice": false, "zero": false}, "axis": {"values": [0,12,24,36,48,60,72,84,96,108,120], "title": "Time from surgery (months)"}},
       "y": {"field": "surv", "type": "quantitative", "scale": {"domain": [0, 1.05], "nice": false}, "axis": {"values": [0,0.25,0.5,0.75,1], "format": ".2f", "title": ["Probability of", "disease-free survival"]}},
       "color": {"field": "group", "type": "nominal", "scale": {"domain": ["TLS-low", "TLS-high"], "range": ["#ff0000", "#1f4e9a"]}, "legend": {"title": null, "orient": "none", "legendX": 20, "legendY": 285, "symbolType": "M-1,0H1M0,-0.45V0.45", "symbolSize": 225, "symbolStrokeWidth": 2, "labelFontSize": 15, "labelOffset": 11, "rowPadding": 3, "padding": 0}}}},
     {"data": {"name": "censor"}, "transform": [{"filter": "datum.panel == 'F'"}], "mark": {"type": "point", "shape": "M-1,0H1M0,-1V1", "filled": false, "size": 49, "strokeWidth": 1.3, "opacity": 1},
      "encoding": {"x": {"field": "time", "type": "quantitative"}, "y": {"field": "surv", "type": "quantitative"}, "color": {"field": "group", "type": "nominal"}}},
     {"data": {"name": "notes"}, "transform": [{"filter": "datum.panel == 'F'"}], "mark": {"type": "text", "align": "left", "baseline": "middle", "fontSize": 15, "color": "#1a1a1a"},
      "encoding": {"x": {"datum": 5.4}, "y": {"datum": 0.095}, "text": {"field": "pval"}}}
    ]},
   {"width": 462, "height": 96, "title": {"text": "Number at risk", "anchor": "start", "frame": "group", "fontSize": 18, "fontWeight": "normal", "baseline": "alphabetic", "offset": -1},
    "data": {"name": "risk"}, "transform": [{"filter": "datum.panel == 'F'"}],
    "encoding": {"x": {"field": "time", "type": "quantitative", "scale": {"domain": [0, 125], "nice": false, "zero": false}, "axis": null},
     "y": {"field": "group", "type": "nominal", "scale": {"domain": ["TLS-low", "TLS-high"]}, "axis": {"title": null, "domain": false, "ticks": false, "labelFontSize": 12.5, "labelPadding": 6, "labelColor": {"condition": {"test": "datum.value == 'TLS-low'", "value": "#ff0000"}, "value": "#2a5caa"}}},
     "text": {"field": "n", "type": "quantitative"}},
    "layer": [
     {"transform": [{"filter": "datum.time == 0"}], "mark": {"type": "text", "align": "left", "fontSize": 15.5, "color": "black"}},
     {"transform": [{"filter": "datum.time > 0"}], "mark": {"type": "text", "align": "center", "fontSize": 15.5, "color": "black"}}
    ]}
  ]}
], "spacing": 14, "resolve": {"scale": {"color": "independent"}, "legend": {"color": "independent"}}}
]
}
